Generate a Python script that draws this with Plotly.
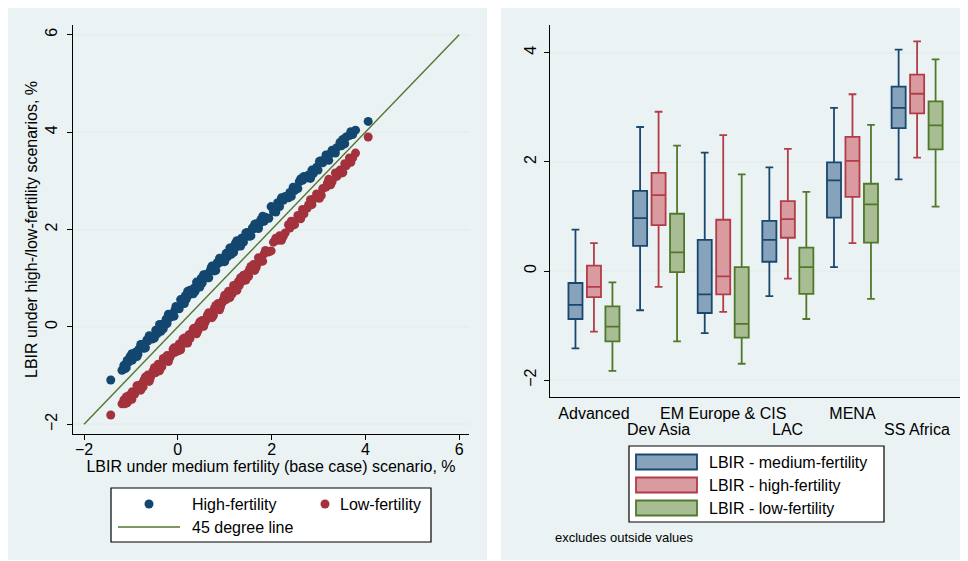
import plotly.graph_objects as go

# the page body adds an 8px margin, so the figure is 8px smaller than the window
OFF = 8
W, H = 968 - OFF, 561 - OFF

# ---------------- data: left panel (scatter) ----------------
base_x = [
    -1.43, -1.19, -1.15, -1.13, -1.08, -1.04, -1.02, -0.97, -0.92, -0.90,
    -0.85, -0.83, -0.77, -0.74, -0.72, -0.66, -0.64, -0.59, -0.55, -0.53,
    -0.47, -0.44, -0.42, -0.36, -0.34, -0.29, -0.25, -0.23, -0.17, -0.14,
    -0.10, -0.06, -0.04, 0.01, 0.03, 0.09, 0.11, 0.16, 0.18, 0.24,
    0.26, 0.31, 0.35, 0.37, 0.43, 0.44, 0.50, 0.52, 0.58, 0.61,
    0.63, 0.69, 0.71, 0.76, 0.78, 0.84, 0.86, 0.91, 0.95, 0.97,
    1.03, 1.06, 1.08, 1.14, 1.16, 1.21, 1.23, 1.29, 1.31, 1.36,
    1.40, 1.42, 1.48, 1.51, 1.53, 1.59, 1.61, 1.67, 1.69, 1.75,
    1.77, 1.84, 1.87, 1.94, 1.99, 2.04, 2.13, 2.17, 2.25, 2.29,
    2.36, 2.39, 2.46, 2.49, 2.56, 2.59, 2.66, 2.69, 2.76, 2.79,
    2.86, 2.89, 2.96, 2.99, 3.06, 3.09, 3.16, 3.19, 3.26, 3.29,
    3.36, 3.39, 3.46, 3.49, 3.56, 3.59, 3.66, 3.69, 3.73, 3.79,
    4.06,
    -1.10, -0.98, -0.87, -0.79, -0.69, -0.61, -0.50, -0.39, -0.31, -0.20,
    -0.08, 0.06, 0.14, 0.21, 0.33, 0.40, 0.47, 0.55, 0.66, 0.73,
    0.81, 0.89, 1.00, 1.11, 1.19, 1.26, 1.34, 1.45, 1.56, 1.64,
    1.72, 1.81, 2.09, 2.21, 2.42, 2.62, 2.83, 3.02, 3.22, 3.52,
]
high_y = [
    -1.09, -0.89, -0.79, -0.86, -0.69, -0.72, -0.61, -0.68, -0.58, -0.52,
    -0.56, -0.46, -0.36, -0.43, -0.44, -0.27, -0.29, -0.19, -0.25, -0.20,
    -0.07, -0.14, -0.06, -0.09, 0.05, 0.03, 0.16, 0.07, 0.19, 0.26,
    0.23, 0.35, 0.42, 0.38, 0.37, 0.55, 0.54, 0.64, 0.57, 0.66,
    0.75, 0.70, 0.80, 0.73, 0.91, 0.85, 1.00, 0.90, 1.01, 1.08,
    1.01, 1.15, 1.21, 1.16, 1.15, 1.32, 1.30, 1.40, 1.34, 1.39,
    1.51, 1.44, 1.52, 1.49, 1.63, 1.61, 1.72, 1.66, 1.73, 1.82,
    1.74, 1.84, 1.94, 1.87, 1.86, 2.03, 2.01, 2.12, 2.04, 2.13,
    2.20, 2.17, 2.25, 2.23, 2.47, 2.37, 2.55, 2.47, 2.60, 2.68,
    2.65, 2.76, 2.87, 2.80, 2.84, 2.98, 3.01, 3.09, 3.06, 3.12,
    3.22, 3.15, 3.28, 3.22, 3.41, 3.37, 3.53, 3.44, 3.56, 3.63,
    3.57, 3.68, 3.79, 3.72, 3.76, 3.90, 3.93, 4.01, 3.95, 4.04,
    4.22,
    -0.84, -0.55, -0.61, -0.36, -0.43, -0.18, -0.23, 0.05, -0.04, 0.26,
    0.22, 0.56, 0.48, 0.73, 0.68, 0.92, 0.82, 1.07, 1.01, 1.25,
    1.16, 1.41, 1.34, 1.62, 1.53, 1.77, 1.66, 1.93, 1.87, 2.11,
    2.02, 2.27, 2.36, 2.65, 2.68, 3.04, 3.05, 3.40, 3.42, 3.85,
]
low_y = [
    -1.81, -1.58, -1.50, -1.58, -1.56, -1.41, -1.43, -1.33, -1.38, -1.33,
    -1.21, -1.29, -1.17, -1.23, -1.09, -1.10, -0.99, -1.06, -0.97, -0.91,
    -0.94, -0.83, -0.77, -0.81, -0.82, -0.66, -0.66, -0.59, -0.63, -0.57,
    -0.46, -0.52, -0.44, -0.49, -0.35, -0.36, -0.25, -0.33, -0.26, -0.16,
    -0.24, -0.11, -0.03, -0.11, -0.08, 0.04, 0.06, 0.13, 0.09, 0.15,
    0.24, 0.20, 0.28, 0.24, 0.38, 0.37, 0.48, 0.41, 0.50, 0.56,
    0.56, 0.67, 0.73, 0.69, 0.68, 0.84, 0.82, 0.93, 0.85, 0.93,
    1.06, 0.98, 1.10, 1.04, 1.18, 1.17, 1.28, 1.22, 1.29, 1.39,
    1.35, 1.50, 1.57, 1.54, 1.56, 1.74, 1.78, 1.87, 1.86, 1.93,
    2.10, 2.03, 2.16, 2.10, 2.29, 2.25, 2.41, 2.32, 2.44, 2.51,
    2.51, 2.62, 2.73, 2.66, 2.70, 2.84, 2.87, 2.95, 2.92, 2.98,
    3.16, 3.09, 3.22, 3.16, 3.35, 3.31, 3.47, 3.38, 3.47, 3.57,
    3.90,
    -1.44, -1.49, -1.21, -1.30, -1.03, -1.12, -0.84, -0.90, -0.65, -0.71,
    -0.43, -0.47, -0.23, -0.33, -0.04, -0.14, 0.10, 0.01, 0.29, 0.19,
    0.44, 0.35, 0.65, 0.60, 0.85, 0.75, 1.01, 0.96, 1.24, 1.16,
    1.42, 1.35, 1.82, 1.78, 2.17, 2.22, 2.61, 2.64, 3.03, 3.17,
]
line45_x = [-2, 6]
line45_y = [-2, 6]

x_ticks_left = [-2, 0, 2, 4, 6]
y_ticks_left = [-2, 0, 2, 4, 6]

# ---------------- data: right panel (box plots) ----------------
regions = ["Advanced", "Dev Asia", "EM Europe & CIS", "LAC", "MENA", "SS Africa"]
labels_row1 = ["Advanced", "EM Europe & CIS", "MENA"]
labels_row2 = ["Dev Asia", "LAC", "SS Africa"]

med_lo = [-1.42, -0.72, -1.14, -0.46, 0.07, 1.68]
med_q1 = [-0.88, 0.46, -0.77, 0.17, 0.98, 2.62]
med_median = [-0.62, 0.97, -0.43, 0.57, 1.66, 2.99]
med_q3 = [-0.22, 1.47, 0.57, 0.92, 1.99, 3.38]
med_hi = [0.76, 2.64, 2.17, 1.90, 2.99, 4.06]

high_lo = [-1.11, -0.29, -0.75, -0.14, 0.51, 2.08]
high_q1 = [-0.48, 0.84, -0.43, 0.61, 1.36, 2.89]
high_median = [-0.29, 1.39, -0.10, 0.95, 2.02, 3.25]
high_q3 = [0.10, 1.80, 0.94, 1.28, 2.46, 3.60]
high_hi = [0.51, 2.92, 2.49, 2.24, 3.24, 4.21]

low_lo = [-1.83, -1.29, -1.70, -0.88, -0.51, 1.18]
low_q1 = [-1.29, -0.02, -1.22, -0.42, 0.52, 2.23]
low_median = [-1.02, 0.34, -0.97, 0.07, 1.22, 2.67]
low_q3 = [-0.65, 1.05, 0.07, 0.43, 1.60, 3.11]
low_hi = [-0.21, 2.30, 1.77, 1.45, 2.68, 3.88]

y_ticks_right = [-2, 0, 2, 4]

# ---------------- styles ----------------
FONT = "Liberation Sans, Arial, sans-serif"
PANEL = "#eaf2f3"
GRID = "#e6eef0"
NAVY = "#13476f"
MAROON = "#a3323c"
GREEN = "#55752f"
BOX_STYLES = [
    ("LBIR - medium-fertility", "#1a476f", "#86a3bb"),
    ("LBIR - high-fertility", "#b23c47", "#d99aa0"),
    ("LBIR - low-fertility", "#50782b", "#a8bd94"),
]


def px(x):
    """screen x pixel -> paper fraction"""
    return (x - OFF) / W


def py(y):
    """screen y pixel -> paper fraction"""
    return 1 - (y - OFF) / H


fig = go.Figure()

# scatter panel
fig.add_trace(go.Scatter(x=base_x, y=high_y, mode="markers", name="High-fertility",
                         marker=dict(color=NAVY, size=9, line=dict(width=0)),
                         xaxis="x", yaxis="y", showlegend=False))
fig.add_trace(go.Scatter(x=base_x, y=low_y, mode="markers", name="Low-fertility",
                         marker=dict(color=MAROON, size=9, line=dict(width=0)),
                         xaxis="x", yaxis="y", showlegend=False))
fig.add_trace(go.Scatter(x=line45_x, y=line45_y, mode="lines", name="45 degree line",
                         line=dict(color=GREEN, width=1.4),
                         xaxis="x", yaxis="y", showlegend=False))

# box panel
box_stats = [
    (med_lo, med_q1, med_median, med_q3, med_hi),
    (high_lo, high_q1, high_median, high_q3, high_hi),
    (low_lo, low_q1, low_median, low_q3, low_hi),
]
for (name, lc, fc), (lo, q1, md, q3, hi) in zip(BOX_STYLES, box_stats):
    fig.add_trace(go.Box(
        x=regions, lowerfence=lo, q1=q1, median=md, q3=q3, upperfence=hi,
        name=name, fillcolor=fc, line=dict(color=lc, width=1.8),
        whiskerwidth=0.55, boxpoints=False, xaxis="x2", yaxis="y2",
        showlegend=False, hoverinfo="y"))

axis_common = dict(
    showline=True, linecolor="black", linewidth=1.2,
    ticks="outside", ticklen=5, tickcolor="black", tickwidth=1.2,
    zeroline=False, automargin=False,
    tickfont=dict(family=FONT, size=16, color="black"),
)
tickfont = dict(family=FONT, size=16, color="black")

fig.update_layout(
    width=W, height=H,
    margin=dict(l=0, r=0, t=0, b=0),
    paper_bgcolor="white", plot_bgcolor="white",
    font=dict(family=FONT, size=16, color="black"),
    boxmode="group", boxgap=0.142, boxgroupgap=0.24,
    showlegend=False,
    xaxis=dict(domain=[px(73), px(469)], range=[-2.235, 6.21],
               tickmode="array", tickvals=x_ticks_left, showgrid=False,
               title=dict(text="LBIR under medium fertility (base case) scenario, %",
                          font=tickfont, standoff=3),
               ticklabelstandoff=-4,
               **axis_common),
    yaxis=dict(domain=[py(434), py(25)], range=[-2.2, 6.2],
               tickmode="array", tickvals=y_ticks_left, tickangle=-90,
               showgrid=True, gridcolor=GRID, gridwidth=1.5,
               title=dict(text="LBIR under high-/low-fertility scenarios, %",
                          font=tickfont, standoff=0),
               ticklabelstandoff=4,
               **axis_common),
    xaxis2=dict(domain=[px(550), px(963)], range=[-0.68, 5.71], type="category",
                categoryorder="array", categoryarray=regions,
                tickmode="array", tickvals=labels_row1, ticktext=labels_row1,
                tickangle=0, showgrid=False, anchor="y2", automargin=False,
                showline=True, linecolor="black", linewidth=1.2, ticks="",
                ticklabelstandoff=2, tickfont=tickfont),
    yaxis2=dict(domain=[py(397), py(25)], range=[-2.31, 4.51], anchor="x2",
                tickmode="array", tickvals=y_ticks_right, tickangle=-90,
                showgrid=True, gridcolor=GRID, gridwidth=1.5,
                ticklabelstandoff=2,
                **axis_common),
)

shapes = [
    dict(type="rect", xref="paper", yref="paper", layer="below",
         x0=px(8), x1=px(487), y0=py(560), y1=py(7), fillcolor=PANEL, line=dict(width=0)),
    dict(type="rect", xref="paper", yref="paper", layer="below",
         x0=px(501), x1=px(968), y0=py(560), y1=py(7), fillcolor=PANEL, line=dict(width=0)),
    # left legend frame
    dict(type="rect", xref="paper", yref="paper", x0=px(111), x1=px(431),
         y0=py(542), y1=py(488), fillcolor="white", line=dict(color="black", width=1.2)),
    dict(type="circle", xref="paper", yref="paper", x0=px(144.5), x1=px(153.5),
         y0=py(508.5), y1=py(499.5), fillcolor=NAVY, line=dict(width=0)),
    dict(type="circle", xref="paper", yref="paper", x0=px(320.5), x1=px(329.5),
         y0=py(508.5), y1=py(499.5), fillcolor=MAROON, line=dict(width=0)),
    dict(type="line", xref="paper", yref="paper", x0=px(118), x1=px(180),
         y0=py(527), y1=py(527), line=dict(color=GREEN, width=1.4)),
    # right legend frame
    dict(type="rect", xref="paper", yref="paper", x0=px(629), x1=px(884),
         y0=py(522), y1=py(446), fillcolor="white", line=dict(color="black", width=1.2)),
]
annotations = [
    dict(text="High-fertility", x=px(190), y=py(504)),
    dict(text="Low-fertility", x=px(338), y=py(504)),
    dict(text="45 degree line", x=px(190), y=py(527)),
]
for i, (name, lc, fc) in enumerate(BOX_STYLES):
    cy = 462 + 23 * i
    shapes.append(dict(type="rect", xref="paper", yref="paper", x0=px(636), x1=px(697),
                       y0=py(cy + 7.5), y1=py(cy - 7.5), fillcolor=fc,
                       line=dict(color=lc, width=1.8)))
    annotations.append(dict(text=name, x=px(707), y=py(cy)))

for a in annotations:
    a.update(xref="paper", yref="paper", xanchor="left", yanchor="middle",
             showarrow=False, font=dict(family=FONT, size=16, color="black"))

# second (staggered) row of category labels, placed on the category axis
for lab in labels_row2:
    annotations.append(dict(text=lab, x=lab, xref="x2", y=py(429), yref="paper",
                            xanchor="center", yanchor="middle", showarrow=False,
                            font=dict(family=FONT, size=16, color="black")))

annotations.append(dict(text="excludes outside values", x=px(553), y=py(537),
                        xref="paper", yref="paper", xanchor="left", yanchor="middle",
                        showarrow=False, font=dict(family=FONT, size=13, color="black")))

fig.update_layout(shapes=shapes, annotations=annotations)

fig.write_html("out.html")
